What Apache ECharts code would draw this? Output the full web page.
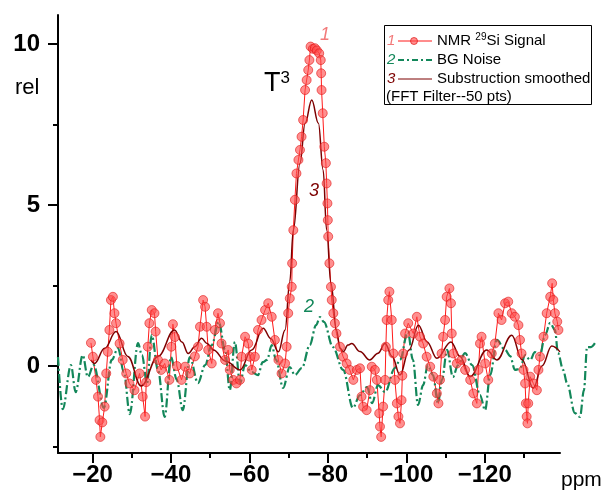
<!DOCTYPE html>
<html>
<head>
<meta charset="utf-8">
<script src="https://cdn.jsdelivr.net/npm/echarts@6/dist/echarts.min.js"></script>
<style>
  html, body { margin: 0; padding: 0; background: #fff; }
  #chart { width: 612px; height: 494px; }
</style>
</head>
<body>
<div id="chart"></div>
<script>
// NMR 29Si signal, [ppm, rel]
var signalPts = [
  [-19.6,0.72],[-20.1,0.29],[-20.9,-0.43],[-21.4,-0.95],[-21.8,-1.68],[-22.0,-2.2],[-22.5,-1.75],[-23.1,-1.26],[-23.5,-0.23],[-23.9,0.44],[-24.3,1.12],
  [-24.7,2.05],[-25.2,2.15],[-25.6,1.64],[-26.0,1.33],[-26.9,0.7],[-27.7,0.19],[-28.6,-0.23],[-29.4,-0.54],[-30.7,-0.75],[-32.0,-0.23],
  [-32.8,-0.95],[-33.4,-1.57],[-33.7,-0.5],[-34.1,0.6],[-34.5,1.33],[-35.1,1.74],[-35.8,1.64],[-36.1,1.07],[-36.7,0.19],[-37.5,-0.12],[-38.4,0.08],
  [-39.6,-0.43],[-40.1,0.6],[-40.5,1.3],[-41.0,0.9],[-41.5,0.0],[-42.7,-0.43],[-43.6,-0.02],[-44.8,-0.23],[-46.1,0.3],[-46.9,0.6],
  [-47.4,1.22],[-48.2,2.05],[-48.7,1.84],[-49.1,1.22],[-49.5,0.5],[-50.4,0.08],[-51.2,1.12],[-52.0,1.64],[-52.5,1.33],[-52.9,0.7],
  [-53.8,0.19],[-54.6,0.5],[-55.0,-0.12],[-55.9,-0.43],[-56.7,-0.54],[-57.6,-0.43],[-58.0,0.29],[-58.9,0.91],[-59.7,0.7],[-60.1,0.29],
  [-60.6,-0.12],[-61.4,0.29],[-62.2,1.12],[-63.1,1.43],[-64.0,1.74],[-64.8,1.95],[-65.7,1.53],[-66.5,0.81],[-67.4,0.19],[-68.2,-0.23],
  [-69.1,0.08],[-69.5,0.6],[-69.9,1.64],[-70.3,2.1],[-70.8,2.46],[-70.9,3.19],[-71.2,4.22],[-71.6,5.16],[-72.0,5.98],[-72.5,6.4],
  [-72.9,6.71],[-73.3,7.12],[-73.7,7.64],[-74.2,8.57],[-74.6,8.88],[-75.0,9.19],[-75.3,9.5],[-75.6,9.92],[-76.2,9.85],[-76.7,9.87],
  [-77.2,9.8],[-77.8,9.71],[-78.2,9.5],[-78.3,9.09],[-78.4,8.57],[-78.7,7.85],[-79.1,6.81],[-79.5,6.3],[-79.7,5.67],[-79.9,5.05],
  [-80.0,4.53],[-80.1,4.02],[-80.4,3.19],[-80.8,2.46],[-81.0,2.05],[-81.4,1.64],[-81.8,1.33],[-82.2,1.01],[-83.1,0.6],[-83.9,0.29],
  [-84.8,0.08],[-85.6,-0.12],[-86.5,-0.43],[-87.4,-0.12],[-88.2,-0.07],[-88.6,-0.95],[-89.0,-1.26],[-89.9,-1.37],[-90.7,-0.75],[-91.2,-0.02],
  [-92.0,-0.12],[-92.5,-0.43],[-93.1,-1.47],[-93.3,-1.88],[-93.6,-2.2],[-94.1,-1.26],[-94.6,-0.43],[-94.8,0.6],[-95.0,1.43],[-95.4,2.05],
  [-95.7,2.31],[-96.3,1.43],[-96.7,0.39],[-97.1,-0.43],[-97.6,-1.16],[-98.0,-1.57],[-98.4,-1.78],[-98.8,-1.06],[-99.0,-0.3],[-99.2,0.39],[-99.7,1.01],
  [-100.5,1.33],[-101.8,1.01],[-102.7,1.53],[-103.5,0.91],[-104.3,0.7],[-105.2,0.29],[-106.1,-0.02],[-106.9,-0.33],[-107.8,-0.85],[-108.2,-1.16],
  [-108.6,-0.43],[-109.0,0.39],[-109.4,0.91],[-109.9,1.43],[-110.3,2.15],[-111.0,2.41],[-111.4,1.95],[-111.6,1.01],[-112.0,0.39],[-112.9,0.08],
  [-114.1,0.19],[-115.0,-0.12],[-116.3,-0.43],[-117.1,-0.85],[-118.0,-1.16],[-118.4,-0.12],[-118.8,0.7],[-119.2,0.91],[-120.1,0.08],[-120.9,-0.43],
  [-121.8,0.39],[-122.6,0.7],[-123.5,1.64],[-124.3,1.43],[-125.2,1.95],[-126.0,2.0],[-126.9,1.64],[-127.7,1.53],[-128.6,1.27],[-129.0,0.81],
  [-129.4,0.39],[-129.9,-0.12],[-130.3,-0.54],[-130.5,-1.16],[-130.7,-1.57],[-130.9,-1.78],[-131.1,-1.16],[-131.6,-0.33],[-132.4,-0.54],[-133.3,-0.75],
  [-133.7,-0.12],[-134.1,0.29],[-135.0,0.91],[-135.8,1.64],[-136.7,2.15],[-137.2,2.57],[-137.5,2.05],[-137.9,1.64],[-138.5,1.38],[-138.8,1.12]
];

// background noise
var noisePts = [
  [-11.2,0.28],[-12.4,-1.34],[-14.5,0.03],[-15.7,-0.81],[-17.5,0.34],[-18.8,-0.34],[-20.3,0.03],[-22.9,-1.30],[-24.9,0.19],[-26.5,0.56],
  [-28.0,-0.19],[-29.5,-1.49],[-31.6,0.71],[-32.6,0.34],[-33.9,-0.53],[-35.1,0.96],[-36.7,-0.12],[-38.4,-1.58],[-40.0,0.28],[-41.5,-0.43],
  [-43.0,-1.37],[-44.8,0.28],[-46.9,-0.53],[-48.7,0.03],[-50.4,0.65],[-52.2,1.37],[-53.8,0.50],[-55.0,-0.75],[-56.3,0.75],[-57.6,-0.53],
  [-58.9,0.03],[-60.6,-0.19],[-62.2,-0.28],[-63.4,0.12],[-64.5,0.19],[-65.7,0.65],[-66.8,0.19],[-68.6,-0.68],[-70.3,-0.03],[-71.6,-0.28],
  [-73.4,-0.06],[-75.4,0.65],[-77.0,1.27],[-78.0,1.52],[-79.0,1.37],[-81.3,0.59],[-83.9,-0.12],[-86.4,-1.30],[-88.2,-0.90],[-90.0,-0.65],
  [-91.3,-1.15],[-92.8,-0.59],[-94.6,-0.81],[-97.1,-0.06],[-98.4,0.19],[-100.4,1.06],[-101.7,0.19],[-103.0,-1.21],[-104.3,-0.59],[-105.5,0.03],
  [-106.8,-0.28],[-108.1,-1.15],[-109.1,-0.43],[-110.4,0.50],[-111.9,-0.34],[-113.2,0.03],[-115.0,0.40],[-116.8,0.03],[-118.8,-0.90],[-120.1,-1.37],
  [-121.4,-0.28],[-123.1,0.81],[-125.2,0.50],[-126.5,0.31],[-127.7,-0.12],[-129.0,-0.09],[-130.3,0.34],[-131.6,0.19],[-132.8,0.43],[-134.1,0.34],
  [-135.4,0.96],[-136.7,1.34],[-137.9,1.12],[-138.7,0.40],[-140.0,-0.12],[-141.0,-0.53],[-143.0,-1.46],[-144.3,-1.58],[-145.3,-0.75],[-146.1,0.59],
  [-147.1,0.59],[-148.1,0.71]
];

// substruction smoothed (FFT filter, 50 pts)
var smoothPts = [
  [-19.6,0.19],[-20.5,0.08],[-23.1,0.55],[-26.0,1.07],[-29.0,0.30],[-32.4,-0.62],[-36.7,0.30],[-40.9,1.12],[-42.8,0.75],[-44.4,0.39],
  [-46.1,0.60],[-47.8,0.86],[-49.2,0.70],[-50.8,0.50],[-54.0,0.15],[-57.6,-0.12],[-60.6,0.50],[-63.5,1.17],[-65.5,0.85],[-67.4,0.44],
  [-69.1,1.12],[-70.3,2.62],[-71.2,4.22],[-72.9,6.30],[-74.2,7.54],[-75.9,8.26],[-77.6,7.54],[-78.8,6.09],[-79.7,4.22],[-80.8,2.57],
  [-82.2,1.12],[-83.1,0.55],[-84.0,0.45],[-85.1,0.65],[-86.1,0.70],[-88.2,0.45],[-90.7,0.19],[-92.8,0.40],[-94.6,0.70],[-96.4,0.30],
  [-98.4,-0.28],[-100.7,0.50],[-103.1,1.27],[-105.3,0.75],[-107.8,0.24],[-111.4,0.75],[-113.7,0.30],[-116.3,-0.33],[-120.5,0.50],[-123.1,0.19],
  [-126.9,0.96],[-129.5,0.20],[-132.4,-0.69],[-134.6,0.00],[-137.1,0.62],[-139.2,0.44]
];

var xMajor = [-20, -40, -60, -80, -100, -120];
var xMinor = [-30, -50, -70, -90, -110, -130];
var yMajor = [0, 5, 10];
var yMinor = [-2.5, 2.5, 7.5];

var FONT = '"Liberation Sans", Arial, sans-serif';
var cRed = '#ff1a1a', cGreen = '#13875a', cDark = '#7d0000', cPink = '#f27a7a';

// plot area: 58..560 px for -11.2..-139.2 ppm; noise runs on past the axis end
var PX_PER_PPM = 502 / 128;
var noiseEnd = -148.5;

var chart = echarts.init(document.getElementById('chart'));

function xAxisOf(ticks, major) {
  return {
    type: 'value', min: -139.2, max: -11.2, inverse: true, position: 'bottom',
    axisLine: { show: major, onZero: false, lineStyle: { color: '#000', width: 2 } },
    axisTick: { customValues: ticks, length: major ? 10 : 5, lineStyle: { color: '#000', width: 2 } },
    axisLabel: {
      show: major, customValues: ticks, margin: 10,
      color: '#000', fontSize: 24, fontWeight: 'bold', fontFamily: FONT,
      formatter: function (v) { return '\u2212' + Math.abs(v); }
    },
    splitLine: { show: false }
  };
}
function yAxisOf(ticks, major) {
  return {
    type: 'value', min: -2.7, max: 10.9, position: 'left',
    axisLine: { show: major, onZero: false, lineStyle: { color: '#000', width: 2 } },
    axisTick: { customValues: ticks, length: major ? 10 : 5, lineStyle: { color: '#000', width: 2 } },
    axisLabel: {
      show: major, customValues: ticks, margin: 18,
      color: '#000', fontSize: 24, fontWeight: 'bold', fontFamily: FONT
    },
    splitLine: { show: false }
  };
}

var option = {
  animation: false,
  backgroundColor: '#fff',
  textStyle: { fontFamily: FONT },
  grid: [
    { left: 58, right: 52, top: 15, bottom: 41 },
    { left: 58, right: 612 - 58 - (noiseEnd * -1 - 11.2) * PX_PER_PPM, top: 15, bottom: 41 }
  ],
  xAxis: [
    xAxisOf(xMajor, true),
    xAxisOf(xMinor, false),
    { type: 'value', gridIndex: 1, min: noiseEnd, max: -11.2, inverse: true, show: false }
  ],
  yAxis: [
    yAxisOf(yMajor, true),
    yAxisOf(yMinor, false),
    { type: 'value', gridIndex: 1, min: -2.7, max: 10.9, show: false }
  ],
  series: [
    {
      name: 'NMR 29Si Signal', type: 'line', data: signalPts,
      symbol: 'circle', symbolSize: 9, showSymbol: true, showAllSymbol: true,
      lineStyle: { color: cRed, width: 1 },
      itemStyle: { color: 'rgba(255,75,75,0.62)', borderColor: 'rgba(225,20,20,0.6)', borderWidth: 1 }
    },
    {
      name: 'BG Noise', type: 'line', data: noisePts, showSymbol: false,
      xAxisIndex: 2, yAxisIndex: 2,
      smooth: 0.35, smoothMonotone: 'x',
      lineStyle: { color: cGreen, width: 2.2, type: [9, 3, 2, 3] }
    },
    {
      name: 'Substruction smoothed', type: 'line', data: smoothPts, showSymbol: false,
      smooth: 0.4, smoothMonotone: 'x',
      lineStyle: { color: cDark, width: 1.5 }
    }
  ],
  graphic: [
    { type: 'text', style: { text: 'rel', x: 15, y: 88, verticalAlign: 'middle', font: '22px ' + FONT, fill: '#000' } },
    { type: 'text', style: { text: 'ppm', x: 561, y: 480, verticalAlign: 'middle', font: '21px ' + FONT, fill: '#000' } },
    { type: 'text', style: {
        text: '{t|T}{s|3}', x: 264, y: 84, verticalAlign: 'middle',
        rich: { t: { fontSize: 27, lineHeight: 28, fontFamily: FONT, fill: '#000' },
                s: { fontSize: 17, lineHeight: 17, verticalAlign: 'top', fontFamily: FONT, fill: '#000' } } } },
    { type: 'text', style: { text: '1', x: 325, y: 35, align: 'center', verticalAlign: 'middle', font: 'italic 18px ' + FONT, fill: cPink } },
    { type: 'text', style: { text: '3', x: 314, y: 191, align: 'center', verticalAlign: 'middle', font: 'italic 18px ' + FONT, fill: cDark } },
    { type: 'text', style: { text: '2', x: 309, y: 307, align: 'center', verticalAlign: 'middle', font: 'italic 18px ' + FONT, fill: cGreen } },
    // legend box
    { type: 'rect', shape: { x: 384.5, y: 25.5, width: 207, height: 79 }, style: { fill: '#fff', stroke: '#000', lineWidth: 1 }, z: 10 },
    { type: 'text', z: 11, style: { text: '1', x: 387, y: 41, verticalAlign: 'middle', font: 'italic 15px ' + FONT, fill: cPink } },
    { type: 'line', z: 11, shape: { x1: 398, y1: 41, x2: 432, y2: 41 }, style: { stroke: cRed, lineWidth: 1 } },
    { type: 'circle', z: 11, shape: { cx: 414, cy: 41, r: 3.5 }, style: { fill: 'rgba(255,70,70,0.6)', stroke: 'rgba(225,20,20,0.7)', lineWidth: 1 } },
    { type: 'text', z: 11, style: {
        text: '{a|NMR }{s|29}{a|Si Signal}', x: 437, y: 41, verticalAlign: 'middle',
        rich: { a: { fontSize: 15, lineHeight: 17, fontFamily: FONT, fill: '#000' },
                s: { fontSize: 10, lineHeight: 10, verticalAlign: 'top', fontFamily: FONT, fill: '#000' } } } },
    { type: 'text', z: 11, style: { text: '2', x: 387, y: 60, verticalAlign: 'middle', font: 'italic 15px ' + FONT, fill: cGreen } },
    { type: 'line', z: 11, shape: { x1: 398, y1: 60, x2: 432, y2: 60 }, style: { stroke: cGreen, lineWidth: 2, lineDash: [6, 3, 2, 3] } },
    { type: 'text', z: 11, style: { text: 'BG Noise', x: 437, y: 60, verticalAlign: 'middle', font: '15px ' + FONT, fill: '#000' } },
    { type: 'text', z: 11, style: { text: '3', x: 387, y: 79, verticalAlign: 'middle', font: 'italic 15px ' + FONT, fill: cDark } },
    { type: 'line', z: 11, shape: { x1: 398, y1: 79, x2: 432, y2: 79 }, style: { stroke: cDark, lineWidth: 1 } },
    { type: 'text', z: 11, style: { text: 'Substruction smoothed', x: 437, y: 79, verticalAlign: 'middle', font: '15px ' + FONT, fill: '#000' } },
    { type: 'text', z: 11, style: { text: '(FFT Filter--50 pts)', x: 386, y: 97, verticalAlign: 'middle', font: '15px ' + FONT, fill: '#000' } }
  ]
};
chart.setOption(option);
</script>
</body>
</html>
